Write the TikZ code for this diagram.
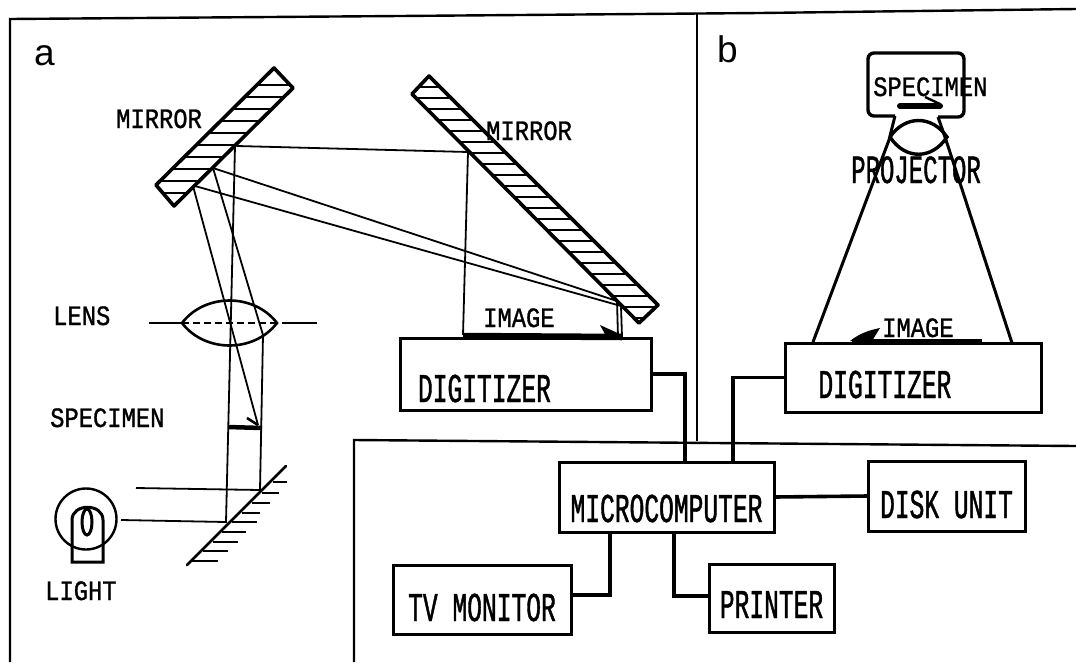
\documentclass[tikz,border=0pt]{standalone}
\usepackage{fontspec}
\setmainfont{Liberation Sans}
\newfontfamily\widelabel[FakeStretch=0.85,FakeBold=1]{Liberation Mono}
\newfontfamily\talllabel[FakeStretch=0.6,FakeBold=1]{Liberation Mono}
\usetikzlibrary{positioning,calc}

\begin{document}
\begin{tikzpicture}[
    x=1pt, y=-1pt,
    frame/.style={line width=2.4pt},
    box/.style={draw, line width=3pt, inner sep=0pt, outer sep=0pt, text depth=0pt, text height=#1, font=\fontsize{41}{41}\talllabel},
    wire/.style={line width=3.6pt},
    ray/.style={line width=1.8pt},
    slab/.style={line width=3.6pt, line join=round},
    hatch/.style={line width=2.4pt},
    thick image/.style={line width=6.5pt},
    small/.style={anchor=base west, inner sep=0pt, font=\fontsize{28}{28}\widelabel},
    tall/.style={anchor=base west, inner sep=0pt, font=\fontsize{40}{40}\talllabel},
    panel/.style={anchor=base west, inner sep=0pt, font=\fontsize{37}{37}\selectfont}
]
\useasboundingbox (0,0) rectangle (1076,662);

% Frame
\draw [frame] (10,662) -- (10,19) -- (400,16) -- (760,13) -- (1076,9);
\draw [frame] (697,13) -- (697,441);
\draw [frame] (354,662) -- (354,440) -- (1076,446);

% Panel letters
\node (panelA) at (34,65) [panel] {a};
\node (panelB) at (717,62) [panel] {b};

% Left mirror
\begin{scope}
\clip (274,68) -- (293,88) -- (174,206) -- (156,185) -- cycle;
\foreach \y in {85,97,...,193} \draw [hatch] (140,\y) -- (310,\y);
\end{scope}
\draw [slab] (274,68) -- (293,88) -- (174,206) -- (156,185) -- cycle;

% Right mirror
\begin{scope}
\clip (429,76) -- (658,305) -- (639,323) -- (412,94) -- cycle;
\foreach \y in {87,98,...,318} \draw [hatch] (400,\y) -- (670,\y);
\end{scope}
\draw [slab] (429,76) -- (658,305) -- (639,323) -- (412,94) -- cycle;

% Rays
\draw [ray] (237,146) -- (468,152) -- (463,335);
\draw [ray] (235,146) -- (226,522) -- (121,520);
\draw [ray] (213,168) -- (263,335) -- (260,490) -- (136,488);
\draw [ray] (193,186) -- (258,425);
\draw [ray] (213,168) -- (617,301) -- (618,337);
\draw [ray] (195,186) -- (621,306) -- (622,337);

% Lens
\draw [line width=2.6pt] (182,323) .. controls (205,293) and (254,293) .. (277,323) .. controls (254,353) and (205,353) .. (182,323);
\draw [ray] (149,323) -- (182,323);
\draw [ray, dash pattern=on 7pt off 4pt] (182,323) -- (277,323);
\draw [ray] (282,323) -- (317,323);

% Specimen
\draw [line width=4.5pt] (228,427) -- (262,428);
\draw [line width=2.6pt] (247,418) -- (258,425);

% Lower mirror
\draw [line width=2.8pt, line cap=round] (187,565) -- (286,466);
\foreach \xa/\xb/\y in {273/287/482,262/279/493,252/270/503,242/260/513,232/257/522,222/246/532,213/238/542,203/228/551,192/218/561}
    \draw [hatch] (\xa,\y) -- (\xb,\y);

% Light
\draw [line width=2.4pt] (86,519) circle [radius=30.5pt];
\draw [line width=3pt] (72,562) -- (72,520) .. controls (72,503) and (103,503) .. (103,520) -- (103,562) -- cycle;
\draw [line width=3pt] (87,522) ellipse [x radius=5pt, y radius=13pt];

% Image on the first digitizer
\draw [thick image] (463,336) -- (622,337);
\fill (600,325) -- (622,335) -- (606,336) -- cycle;

% Projector
\draw [line width=3.4pt, rounded corners=6pt] (895,116) -- (868,116) -- (868,53) -- (964,53) -- (964,117) -- (938,117);
\draw [line width=3pt] (895,116) -- (889,140) -- (813,342);
\draw [line width=3pt] (938,117) -- (946,140) -- (1012,343);
\draw [line width=3.4pt] (890,137) .. controls (905,115) and (932,115) .. (947,137) .. controls (932,160) and (905,160) .. (890,137);
\draw [line width=6pt, line cap=round] (900,106) -- (940,106);
\draw [line width=2.4pt] (925,97) -- (940,104);

% Image on the second digitizer
\draw [thick image] (852,342) -- (982,342);
\fill (850,341) .. controls (860,333) and (870,330) .. (880,328) -- (872,341) -- cycle;

% Blocks
\node (digA) at (525.5,374) [box=56pt, minimum width=251pt, minimum height=72pt, text width=215pt, align=left] {DIGITIZER};
\node (digB) at (913,377.5) [box=41pt, minimum width=256pt, minimum height=69pt, text width=189pt, align=left] {DIGITIZER};
\node (micro) at (666.5,497) [box=50pt, minimum width=215pt, minimum height=70pt] {MICROCOMPUTER};
\node (disk) at (946.5,496) [box=44pt, minimum width=157pt, minimum height=70pt] {DISK UNIT};
\node (tv) at (482,599.5) [box=43pt, minimum width=178pt, minimum height=69pt] {TV MONITOR};
\node (printer) at (771.5,598) [box=40pt, minimum width=125pt, minimum height=68pt] {PRINTER};

% Connections
\draw [wire] (digA.east) -| ([xshift=18.5pt]micro.north);
\draw [wire] (digB.west) -| ([xshift=66.5pt]micro.north);
\draw [wire] (micro.east) -- (disk.west);
\draw [wire] ([xshift=-56.5pt]micro.south) |- ([yshift=4.5pt]tv.east);
\draw [wire] ([xshift=7.5pt]micro.south) |- ([yshift=2pt]printer.west);

% Labels
\node (mirrorA) at (116,128) [small] {MIRROR};
\node (mirrorB) at (486,140) [small] {MIRROR};
\node (lens) at (53,325) [small] {LENS};
\node (specA) at (50,427) [small] {SPECIMEN};
\node (light) at (45,600) [small] {LIGHT};
\node (imageA) at (483,327) [small] {IMAGE};
\node (specB) at (873,96) [small] {SPECIMEN};
\node (imageB) at (882,337) [small] {IMAGE};
\node (projector) at (851,183) [tall] {PROJECTOR};

\end{tikzpicture}
\end{document}
